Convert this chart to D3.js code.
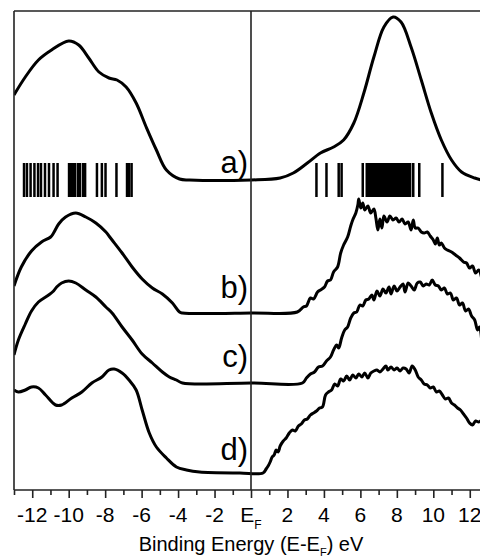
<!DOCTYPE html>
<html>
<head>
<meta charset="utf-8">
<script src="https://cdn.jsdelivr.net/npm/d3@7"></script>
<style>
  body { margin: 0; background: #fff; }
  svg { display: block; font-family: "Liberation Sans", Arial, Helvetica, sans-serif; }
</style>
</head>
<body>
<svg id="chart" width="480" height="560"></svg>
<script>
// spectra (binding energy in eV, intensity in arb. units above each baseline)
const eA = [-13.0, -12.38, -11.66, -10.94, -10.0, -9.45, -8.90, -8.34, -7.79, -7.35, -6.85, -6.30, -5.75, -5.19, -4.64, -3.92, -3.37, 0, 1.60, 2.32, 3.09, 3.81, 4.53, 5.08, 5.64, 6.19, 6.74, 7.29, 7.79, 8.23, 8.78, 9.34, 9.89, 10.44, 11.0, 11.55, 12.27, 12.65];
const iA = [85, 103, 120, 130, 139, 135, 122, 108, 102, 100, 93, 77, 53, 30, 10, 1, 0, 0, 2, 7, 17, 27, 33, 40, 57, 87, 123, 153, 163, 158, 133, 100, 67, 40, 20, 8, 2, 0];

const eB = [-13.0, -12.6, -12.04, -11.49, -10.99, -10.83, -10.55, -10.17, -9.61, -9.06, -8.51, -7.96, -7.79, -7.62, -7.07, -6.52, -5.97, -5.41, -4.86, -4.31, -3.92, -3.76, 0, 2.54,
  2.87, 3.04, 3.26, 3.43, 3.65, 3.81, 4.03, 4.20, 4.36, 4.53, 4.75, 4.92, 5.08, 5.30, 5.47, 5.58, 5.75, 5.86, 5.91, 6.02, 6.13, 6.24, 6.41, 6.57, 6.74, 6.85, 6.96, 7.07, 7.18, 7.29, 7.46, 7.62, 7.79, 7.96, 8.12, 8.29, 8.45, 8.62, 8.78, 8.90, 9.01, 9.17, 9.34, 9.50, 9.67, 9.83, 10.0, 10.11, 10.22, 10.33, 10.44, 10.61, 10.77, 11.0, 11.22, 11.44, 11.66, 11.82, 11.99, 12.15, 12.32, 12.49, 12.65];
const iB = [27, 46, 62, 71, 76, 80, 89, 96, 100, 96, 90, 81, 77, 73, 60, 46, 34, 25, 19, 10, 1, 0, 0, 1,
  6, 7, 15, 14, 21, 23, 26, 32, 33, 41, 46, 60, 68, 76, 87, 93, 100, 108, 114, 105, 110, 103, 107, 100, 104, 95, 83, 94, 85, 97, 91, 97, 93, 95, 91, 94, 89, 91, 83, 93, 85, 85, 81, 80, 81, 77, 73, 69, 75, 68, 70, 65, 63, 61, 58, 55, 51, 50, 45, 47, 40, 43, 35];

const eC = [-13.0, -12.76, -12.38, -12.04, -11.66, -11.10, -10.83, -10.66, -10.39, -10.0, -9.61, -9.06, -8.51, -7.96, -7.62, -7.07, -6.52, -5.97, -5.41, -4.86, -4.48, -4.09, -3.76, 0, 2.82,
  3.04, 3.26, 3.48, 3.70, 3.92, 4.14, 4.36, 4.53, 4.70, 4.81, 4.97, 5.14, 5.30, 5.47, 5.64, 5.80, 5.97, 6.13, 6.30, 6.46, 6.63, 6.74, 6.91, 7.07, 7.24, 7.40, 7.57, 7.68, 7.85, 8.01, 8.18, 8.34, 8.45, 8.62, 8.78, 8.95, 9.12, 9.28, 9.45, 9.61, 9.78, 9.94, 10.11, 10.28, 10.44, 10.61, 10.77, 10.94, 11.10, 11.27, 11.44, 11.60, 11.77, 11.93, 12.10, 12.27, 12.43, 12.54, 12.65];
const iC = [28, 43, 59, 72, 81, 88, 92, 96, 100, 102, 100, 93, 86, 76, 70, 56, 43, 29, 20, 11, 6, 3, 0, 0, 0,
  5, 9, 11, 16, 17, 22, 26, 33, 38, 35, 45, 53, 56, 65, 70, 71, 78, 77, 83, 84, 88, 83, 92, 87, 94, 90, 96, 89, 97, 92, 96, 99, 91, 100, 97, 93, 100, 101, 97, 99, 98, 103, 98, 97, 93, 95, 89, 90, 83, 85, 78, 80, 72, 74, 67, 63, 53, 56, 43];

const eD = [-13.0, -12.76, -12.38, -12.04, -11.66, -11.27, -10.72, -10.39, -9.83, -9.28, -8.73, -8.18, -7.79, -7.51, -7.07, -6.69, -6.30, -5.97, -5.58, -5.19, -4.64, -4.09, -3.54, -2.82, -0.61, 0.66,
  0.83, 0.94, 1.05, 1.16, 1.27, 1.38, 1.49, 1.60, 1.77, 1.93, 2.10, 2.27, 2.43, 2.60, 2.76, 2.93, 3.09, 3.26, 3.43, 3.59, 3.76, 3.92, 4.09, 4.25, 4.42, 4.59, 4.75, 4.92, 5.08, 5.25, 5.41, 5.58, 5.75, 5.91, 6.08, 6.24, 6.41, 6.57, 6.74, 6.91, 7.07, 7.24, 7.40, 7.51, 7.68, 7.85, 8.01, 8.18, 8.34, 8.51, 8.67, 8.84, 9.01, 9.17, 9.34, 9.50, 9.67, 9.83, 10.0, 10.17, 10.33, 10.50, 10.66, 10.83, 11.0, 11.16, 11.33, 11.49, 11.66, 11.82, 11.99, 12.15, 12.32, 12.49, 12.65];
const iD = [83, 81, 83, 86, 85, 78, 68, 68, 75, 81, 90, 96, 103, 104, 100, 93, 83, 63, 40, 26, 15, 6, 3, 1, 0, 0,
  4, 7, 11, 16, 18, 23, 21, 27, 32, 35, 40, 43, 42, 47, 49, 53, 54, 58, 60, 62, 65, 66, 78, 81, 83, 89, 87, 94, 92, 97, 93, 98, 95, 99, 96, 100, 95, 100, 102, 103, 101, 104, 107, 103, 106, 103, 105, 102, 105, 104, 100, 107, 103, 96, 93, 89, 88, 85, 86, 81, 82, 78, 74, 75, 70, 68, 65, 63, 59, 55, 50, 48, 52, 51, 53];

// vertical offsets of the four spectra
const offsets = [310, 177, 107, 17];
const names = ["a)", "b)", "c)", "d)"];

// calculated eigenvalues (sticks under spectrum a)
const sticks = [-12.45, -12.29, -12.09, -11.88, -11.68, -11.52, -11.30, -11.08, -10.83, -10.61,
  -9.98, -9.87, -9.76, -9.65, -9.49, -9.38, -9.21, -9.10, -8.45, -8.18, -7.98, -7.38, -6.80, -6.69, -6.55,
  3.59, 4.14, 4.81, 4.97, 6.13, 6.35, 6.46, 6.57, 6.69, 6.80, 6.91, 7.02, 7.13, 7.24, 7.35, 7.46, 7.51, 7.62, 7.73,
  7.85, 7.96, 8.07, 8.18, 8.29, 8.40, 8.51, 8.62, 8.73, 8.90, 9.23, 10.50];
const stickLo = 293, stickHi = 327;

const ticks = d3.range(-12, 13, 2);

const svg = d3.select("#chart");
const W = 480, H = 560;
const x = d3.scaleLinear().domain([-13, 13]).range([14, 488]);
const y = d3.scaleLinear().domain([0, 479]).range([490, 11]);

svg.append("defs").append("clipPath").attr("id", "clip")
  .append("rect").attr("x", 14).attr("y", 0).attr("width", W - 14).attr("height", 490);

const plot = svg.append("g").attr("clip-path", "url(#clip)");

const line = d3.line()
    .x(d => x(d[0]))
    .y(d => y(d[1]))
    .curve(d3.curveCatmullRom.alpha(0.5));

const series = [[eA, iA], [eB, iB], [eC, iC], [eD, iD]];
series.forEach(([e, v], k) => {
  const pts = e.map((xx, i) => [xx, v[i] + offsets[k]]);
  plot.append("path")
      .datum(pts)
      .attr("fill", "none")
      .attr("stroke", "#000")
      .attr("stroke-width", 3)
      .attr("stroke-linejoin", "round")
      .attr("d", line);
});

plot.append("g").selectAll("line")
  .data(sticks)
  .enter().append("line")
    .attr("x1", d => x(d)).attr("x2", d => x(d))
    .attr("y1", y(stickLo)).attr("y2", y(stickHi))
    .attr("stroke", "#000")
    .attr("stroke-width", 2.5);

// labels
const labelY = [173, 298, 367, 460];
svg.append("g").selectAll("text")
  .data(names)
  .enter().append("text")
    .attr("x", x(0) - 3)
    .attr("y", (d, i) => labelY[i])
    .attr("text-anchor", "end")
    .style("font-size", "31px")
    .text(d => d);

// frame
const frame = svg.append("g").attr("stroke", "#222").attr("stroke-width", 1.6).attr("fill", "none");
frame.append("line").attr("x1", 14).attr("x2", W).attr("y1", 11).attr("y2", 11);
frame.append("line").attr("x1", 14).attr("x2", 14).attr("y1", 11).attr("y2", 490);
frame.append("line").attr("x1", x(0)).attr("x2", x(0)).attr("y1", 11).attr("y2", 490);

// bottom axis
const axis = d3.axisBottom(x)
    .tickValues(d3.range(-13, 13, 1))
    .tickSize(8)
    .tickFormat("");
const gx = svg.append("g").attr("transform", "translate(0,490)").call(axis);
gx.select(".domain").attr("stroke", "#222").attr("stroke-width", 1.6).attr("d", `M14,0H${W}`);
gx.selectAll(".tick line")
    .attr("stroke", "#222")
    .attr("stroke-width", 1.6)
    .attr("y2", d => (Math.round(d) % 2 === 0 ? 8 : 5));

const tl = svg.append("g").style("font-size", "21px").attr("text-anchor", "middle");
ticks.forEach(t => {
  const txt = tl.append("text").attr("x", x(t)).attr("y", 522);
  if (t === 0) {
    txt.text("E");
    txt.append("tspan").attr("dy", 7).style("font-size", "12px").text("F");
  } else {
    txt.text(t < 0 ? "-" + Math.abs(t) : t);
  }
});

const title = svg.append("text")
    .attr("x", x(0))
    .attr("y", 551)
    .attr("text-anchor", "middle")
    .style("font-size", "20px")
    .text("Binding Energy (E-E");
title.append("tspan").attr("dy", 5).style("font-size", "11px").text("F");
title.append("tspan").attr("dy", -5).text(") eV");
</script>
</body>
</html>
